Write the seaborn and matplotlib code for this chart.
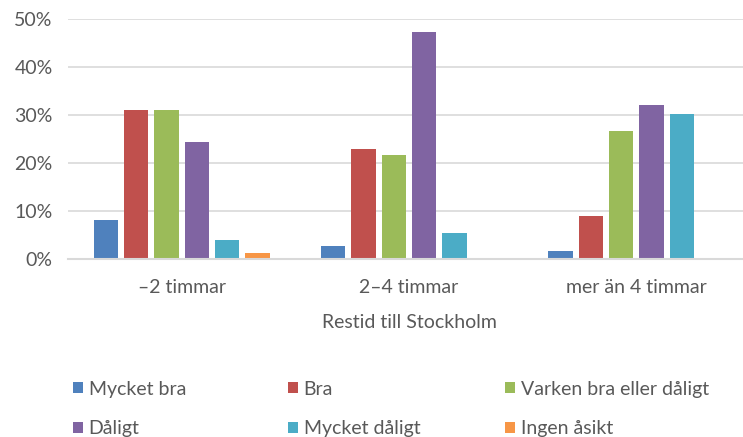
import pandas as pd
import matplotlib.pyplot as plt
import seaborn as sns
from matplotlib.ticker import PercentFormatter

restid = ['–2 timmar', '2–4 timmar', 'mer än 4 timmar']
svar = ['Mycket bra', 'Bra', 'Varken bra eller dåligt', 'Dåligt', 'Mycket dåligt', 'Ingen åsikt']
farger = ['#4F81BD', '#C0504D', '#9BBB59', '#8064A2', '#4BACC6', '#F79646']

# andel per svarsalternativ, i ordningen av restid
mycket_bra = [8.1, 2.7, 1.7]
bra = [31.0, 22.9, 9.0]
varken = [31.0, 21.7, 26.7]
daligt = [24.4, 47.3, 32.1]
mycket_daligt = [4.0, 5.4, 30.2]
ingen_asikt = [1.3, 0.0, 0.0]

serier = [mycket_bra, bra, varken, daligt, mycket_daligt, ingen_asikt]
rows = []
for namn, varden in zip(svar, serier):
    for r, v in zip(restid, varden):
        rows.append({'restid': r, 'svar': namn, 'andel': v})
df = pd.DataFrame(rows)

sns.set_style('white')
plt.rcParams['font.family'] = ['Lato', 'DejaVu Sans']
textfarg = '#595959'

fig = plt.figure(figsize=(7.43, 4.37), dpi=100)
ax = fig.add_axes([0.0915, 0.407, 0.918, 0.55])

sns.barplot(data=df, x='restid', y='andel', hue='svar', order=restid, hue_order=svar,
            palette=farger, saturation=1, width=0.8, gap=0.2, linewidth=0, ax=ax)

ax.set_ylim(0, 50)
ax.set_yticks(range(0, 51, 10))
ax.yaxis.set_major_formatter(PercentFormatter(decimals=0))
ax.grid(axis='y', color='#D9D9D9', linewidth=1.2)
ax.set_axisbelow(True)
for s in ['top', 'right', 'left']:
    ax.spines[s].set_visible(False)
ax.spines['bottom'].set_color('#D9D9D9')
ax.spines['bottom'].set_linewidth(1.5)
ax.tick_params(axis='both', length=0, labelsize=14, colors=textfarg, pad=14)
ax.tick_params(axis='y', pad=11)
ax.set_xlabel('Restid till Stockholm', fontsize=14, color=textfarg, labelpad=13)
ax.set_ylabel('')

# legend i tre kolumner, som i Excel
handles, labels = ax.get_legend_handles_labels()
ax.get_legend().remove()
for kol, x in enumerate([73, 288, 505]):
    idx = [kol, kol + 3]
    leg = fig.legend([handles[i] for i in idx], [labels[i] for i in idx],
                     loc='center left', bbox_to_anchor=(x / 743, 1 - 409 / 437),
                     frameon=False, fontsize=14, labelcolor=textfarg,
                     handlelength=0.5, handleheight=0.5, handletextpad=0.3,
                     labelspacing=1.15, borderpad=0, borderaxespad=0)

fig.savefig('out.png', dpi=100)
